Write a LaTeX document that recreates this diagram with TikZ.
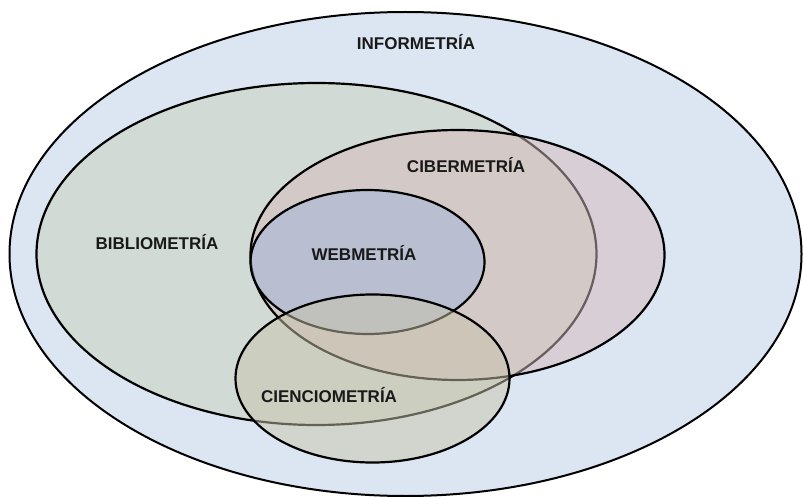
\documentclass[tikz,border=0pt]{standalone}
\usepackage{fontspec}
\setmainfont{Liberation Sans}
\definecolor{outerc}{RGB}{220,230,242}
\definecolor{biblioc}{RGB}{201,208,186}
\definecolor{ciberc}{RGB}{212,186,186}
\definecolor{webc}{RGB}{160,180,218}
\definecolor{ciencic}{RGB}{200,197,170}
\definecolor{txt}{RGB}{25,25,25}
\begin{document}
\begin{tikzpicture}[x=1pt,y=-1pt,
  setshape/.style={draw=black,line width=2.2pt,fill opacity=0.5},
  lab/.style={anchor=base,font=\fontsize{17}{20}\selectfont\bfseries,text=txt,inner sep=0pt}]
\useasboundingbox (0,0) rectangle (803,497);
\fill[white] (0,0) rectangle (803,497);
\draw[draw=black,line width=2pt,fill=outerc] (405.5,254) ellipse [x radius=396, y radius=242];
\draw[setshape,fill=biblioc] (316.5,254) ellipse [x radius=280, y radius=171];
\draw[setshape,fill=ciberc] (457.5,255) ellipse [x radius=207, y radius=125];
\draw[setshape,fill=webc] (367.5,262) ellipse [x radius=117, y radius=72];
\draw[setshape,fill=ciencic] (372.5,378.5) ellipse [x radius=137, y radius=84];
\node[lab] (info) at (416,50) {INFORMETRÍA};
\node[lab] (ciber) at (466,173) {CIBERMETRÍA};
\node[lab] (biblio) at (157,249) {BIBLIOMETRÍA};
\node[lab] (web) at (364,260) {WEBMETRÍA};
\node[lab] (cienci) at (329,402) {CIENCIOMETRÍA};
\end{tikzpicture}
\end{document}
